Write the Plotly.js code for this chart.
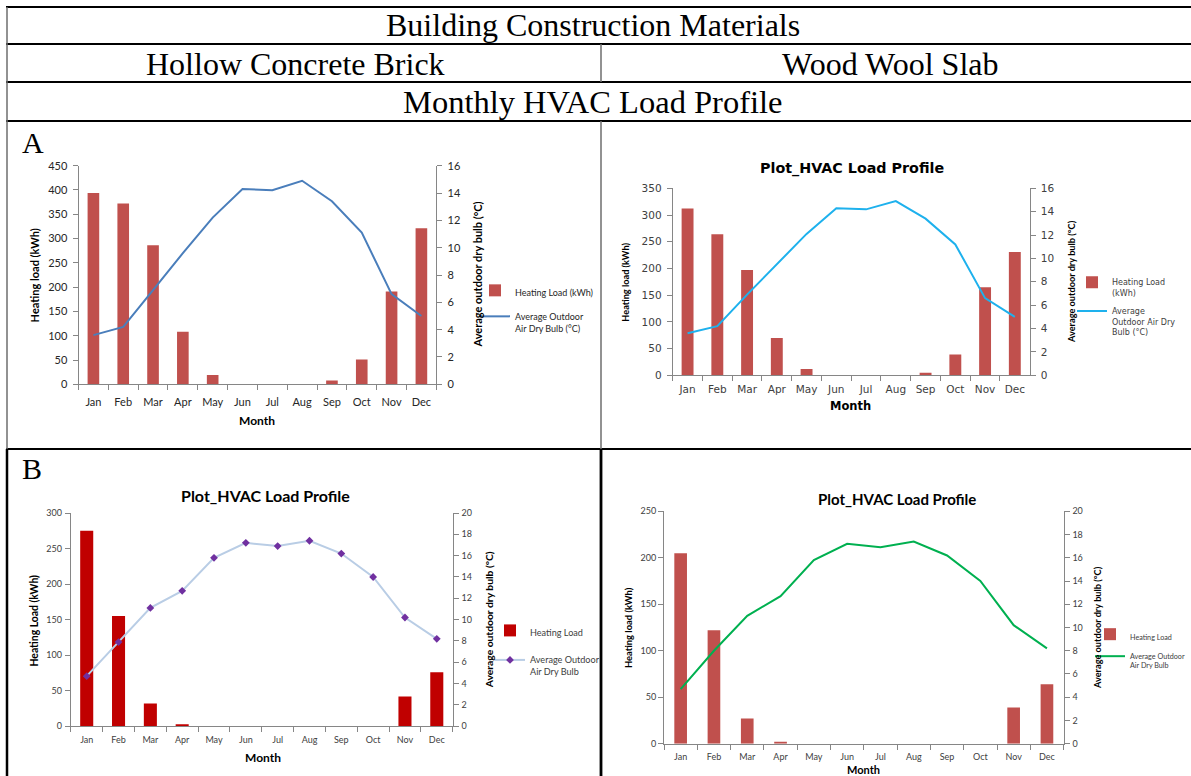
<!DOCTYPE html>
<html>
<head>
<meta charset="utf-8">
<script src="https://cdn.plot.ly/plotly-3.0.1.min.js"></script>
<style>
html,body{margin:0;padding:0;background:#fff;overflow:hidden;}
#chart{width:1191px;height:776px;}
</style>
</head>
<body>
<div id="chart"></div>
<script>
// ---------- data ----------
const months = ['Jan','Feb','Mar','Apr','May','Jun','Jul','Aug','Sep','Oct','Nov','Dec'];

// Case A - Hollow Concrete Brick
const heatA_HCB = [394, 372, 286, 108, 19, 0, 0, 0, 8, 51, 191, 321];
const tempA_HCB = [3.6, 4.2, 6.9, 9.6, 12.2, 14.3, 14.2, 14.9, 13.4, 11.1, 6.6, 5.0];
// Case A - Wood Wool Slab
const heatA_WWS = [312, 264, 197, 70, 12, 0, 0, 0, 5, 39, 165, 231];
const tempA_WWS = [3.6, 4.2, 6.9, 9.5, 12.1, 14.3, 14.2, 14.9, 13.4, 11.2, 6.6, 5.0];
// Case B - Hollow Concrete Brick
const heatB_HCB = [275, 155, 32, 3, 0, 0, 0, 0, 0, 0, 42, 76];
const tempB_HCB = [4.7, 7.9, 11.1, 12.7, 15.8, 17.2, 16.9, 17.4, 16.2, 14.0, 10.2, 8.2];
// Case B - Wood Wool Slab
const heatB_WWS = [205, 122, 27, 2, 0, 0, 0, 0, 0, 0, 39, 64];
const tempB_WWS = [4.7, 8.0, 11.0, 12.7, 15.8, 17.2, 16.9, 17.4, 16.2, 14.0, 10.2, 8.2];

// text
const headerTitle = 'Building Construction Materials';
const materials = ['Hollow Concrete Brick', 'Wood Wool Slab'];
const profileTitle = 'Monthly HVAC Load Profile';
const caseLabels = ['A', 'B'];
const chartTitle = 'Plot_HVAC Load Profile';

// ---------- helpers ----------
const W = 1191, H = 776;
const fx = v => v / W;
const fy = v => 1 - v / H;
const AXC = '#868686';

function xAxis(l, r, anchor, font, standoff) {
  return {
    domain: [fx(l), fx(r)], anchor: anchor, type: 'category', range: [-0.5, 11.5],
    showline: true, linecolor: AXC, linewidth: 1,
    ticks: 'outside', tickson: 'boundaries', ticklen: 5, tickcolor: AXC,
    tickangle: 0, tickfont: font, ticklabelstandoff: standoff,
    showgrid: false, zeroline: false, fixedrange: true
  };
}
function yAxis(top, bottom, anchor, range, dtick, font, standoff) {
  return {
    domain: [fy(bottom), fy(top)], anchor: anchor, range: range, dtick: dtick, tick0: 0,
    showline: true, linecolor: AXC, linewidth: 1,
    ticks: 'outside', ticklen: 5, tickcolor: AXC,
    tickfont: font, ticklabelstandoff: standoff,
    showgrid: false, zeroline: false, fixedrange: true
  };
}
function yAxisR(over, anchor, range, dtick, font, standoff) {
  return {
    overlaying: over, side: 'right', anchor: anchor, range: range, dtick: dtick, tick0: 0,
    showline: true, linecolor: AXC, linewidth: 1,
    ticks: 'outside', ticklen: 5, tickcolor: AXC,
    tickfont: font, ticklabelstandoff: standoff,
    showgrid: false, zeroline: false, fixedrange: true
  };
}

const f1 = {family: 'Lato', size: 11, color: '#262626'};
const f2 = {family: 'DejaVu Sans', size: 10.5, color: '#404040'};
const f3 = {family: 'Lato', size: 9, color: '#404040'};
const f4 = {family: 'Lato', size: 9, color: '#404040'};

// ---------- traces ----------
const traces = [
  {type: 'bar', x: months, y: heatA_HCB, xaxis: 'x', yaxis: 'y', width: 0.39,
   name: 'Heating Load (kWh)', marker: {color: '#C0504D'}, legend: 'legend', legendgroup: 'a1'},
  {type: 'scatter', mode: 'lines', x: months, y: tempA_HCB, xaxis: 'x', yaxis: 'y2',
   name: 'Average Outdoor<br>Air Dry Bulb (°C)', line: {color: '#4A7EBB', width: 2}, legend: 'legend', legendgroup: 'a2'},

  {type: 'bar', x: months, y: heatA_WWS, xaxis: 'x2', yaxis: 'y3', width: 0.4,
   name: 'Heating Load<br>(kWh)', marker: {color: '#C0504D'}, legend: 'legend2', legendgroup: 'b1'},
  {type: 'scatter', mode: 'lines', x: months, y: tempA_WWS, xaxis: 'x2', yaxis: 'y4',
   name: 'Average<br>Outdoor Air Dry<br>Bulb (°C)', line: {color: '#1EB1ED', width: 2}, legend: 'legend2', legendgroup: 'b2'},

  {type: 'bar', x: months, y: heatB_HCB, xaxis: 'x3', yaxis: 'y5', width: 0.41,
   name: 'Heating Load', marker: {color: '#C00000'}, legend: 'legend3', legendgroup: 'c1'},
  {type: 'scatter', mode: 'lines+markers', x: months, y: tempB_HCB, xaxis: 'x3', yaxis: 'y6',
   name: 'Average Outdoor<br>Air Dry Bulb', line: {color: '#B9CDE5', width: 2},
   marker: {symbol: 'diamond', size: 6, color: '#7030A0'}, legend: 'legend3', legendgroup: 'c2'},

  {type: 'bar', x: months, y: heatB_WWS, xaxis: 'x4', yaxis: 'y7', width: 0.38,
   name: 'Heating Load', marker: {color: '#C0504D'}, legend: 'legend4', legendgroup: 'd1'},
  {type: 'scatter', mode: 'lines', x: months, y: tempB_WWS, xaxis: 'x4', yaxis: 'y8',
   name: 'Average Outdoor<br>Air Dry Bulb', line: {color: '#00B050', width: 2}, legend: 'legend4', legendgroup: 'd2'}
];

// ---------- table lines ----------
const shapes = [];
function hline(y, x0, x1, color, w) {
  shapes.push({type: 'line', xref: 'paper', yref: 'paper', x0: fx(x0), x1: fx(x1), y0: fy(y), y1: fy(y),
               line: {color: color, width: w}, layer: 'above'});
}
function vline(x, y0, y1, color, w) {
  shapes.push({type: 'line', xref: 'paper', yref: 'paper', x0: fx(x), x1: fx(x), y0: fy(y0), y1: fy(y1),
               line: {color: color, width: w}, layer: 'above'});
}
[7, 44, 82, 121, 449].forEach(y => hline(y, 6, 1191, '#000', 2.2));
vline(7, 7, 449, '#6e6e6e', 1.5);
vline(7, 449, 776, '#000', 2.5);
vline(601, 44, 82, '#6e6e6e', 1.5);
vline(601, 121, 449, '#6e6e6e', 1.5);
vline(601, 449, 776, '#000', 2.8);

// ---------- annotations ----------
const ann = [];
function txt(x, y, text, font, opts) {
  ann.push(Object.assign({x: fx(x), y: fy(y), xref: 'paper', yref: 'paper', text: text, font: font,
    showarrow: false, xanchor: 'center', yanchor: 'middle'}, opts || {}));
}
const serif = s => ({family: 'Liberation Serif', size: s, color: '#000'});
txt(592.5, 25.5, headerTitle, serif(32));
txt(295, 63.5, materials[0], serif(32));
txt(890, 63.5, materials[1], serif(32));
txt(592.5, 102, profileTitle, serif(32.5));
txt(33, 142, caseLabels[0], serif(30));
txt(32, 469, caseLabels[1], serif(30));

const bold = (fam, s) => ({family: fam, size: s, color: '#000', weight: 'bold'});
// chart titles
txt(852, 168.3, chartTitle, bold('DejaVu Sans', 14.3));
txt(265.4, 496, chartTitle, bold('Lato', 16));
txt(897, 499, chartTitle, bold('Lato', 15));
// axis titles panel 1
txt(34.4, 275, 'Heating load (kWh)', bold('Lato', 11), {textangle: -90});
txt(476.5, 275, 'Average outdoor dry bulb (°C)', bold('Lato', 11), {textangle: -90});
txt(257, 421, 'Month', bold('Lato', 12));
// panel 2
txt(626, 282.7, 'Heating load (kWh)', bold('Lato', 9.2), {textangle: -90});
txt(1071, 282, 'Average outdoor dry bulb (°C)', bold('Lato', 9.2), {textangle: -90});
txt(850.7, 405.7, 'Month', bold('DejaVu Sans', 11.5));
// panel 3
txt(33, 620.5, 'Heating Load (kWh)', bold('Lato', 10.4), {textangle: -90});
txt(488.7, 619.5, 'Average outdoor dry bulb (°C)', bold('Lato', 10.3), {textangle: -90});
txt(262.5, 757.3, 'Month', bold('Lato', 12));
// panel 4
txt(628, 628, 'Heating load (kWh)', bold('Lato', 9.4), {textangle: -90});
txt(1097, 628, 'Average outdoor dry bulb (°C)', bold('Lato', 9.2), {textangle: -90});
txt(863.9, 769.5, 'Month', bold('Lato', 11));

// ---------- legends ----------
function legend(x, y, font, gap) {
  return {x: fx(x), y: fy(y), xref: 'paper', yref: 'paper', xanchor: 'left', yanchor: 'top',
          font: font, bgcolor: 'rgba(0,0,0,0)', valign: 'top', traceorder: 'grouped',
          tracegroupgap: gap};
}

const layout = {
  width: W, height: H,
  margin: {l: 0, r: 0, t: 0, b: 0, pad: 0, autoexpand: false},
  paper_bgcolor: '#fff', plot_bgcolor: 'rgba(0,0,0,0)',
  showlegend: true,
  xaxis: xAxis(78.5, 436.3, 'y', f1, 7),
  yaxis: yAxis(165.7, 384.3, 'x', [0, 450], 50, f1, 3),
  yaxis2: yAxisR('y', 'x', [0, 16], 2, f1, 3),

  xaxis2: xAxis(672.7, 1029.7, 'y3', f2, 4),
  yaxis3: yAxis(188.3, 375.3, 'x2', [0, 350], 50, f2, 3),
  yaxis4: yAxisR('y3', 'x2', [0, 16], 2, f2, 3),

  xaxis3: xAxis(70.8, 452.7, 'y5', f3, 5),
  yaxis5: yAxis(513, 726.3, 'x3', [0, 300], 50, f3, 1),
  yaxis6: yAxisR('y5', 'x3', [0, 20], 2, f3, 1),

  xaxis4: xAxis(664, 1063.6, 'y7', f4, 4),
  yaxis7: yAxis(511.3, 743.7, 'x4', [0, 250], 50, f4, 0),
  yaxis8: yAxisR('y7', 'x4', [0, 20], 2, f4, 1),

  legend: legend(475, 278, {family: 'Lato', size: 9, color: '#262626'}, 7),
  legend2: legend(1072, 270.5, {family: 'DejaVu Sans', size: 8, color: '#404040'}, 5),
  legend3: legend(490, 618, {family: 'Lato', size: 9.1, color: '#404040'}, 10.5),
  legend4: legend(1090, 623, {family: 'Lato', size: 7.2, color: '#404040'}, 3),

  shapes: shapes,
  annotations: ann
};

Plotly.newPlot('chart', traces, layout, {staticPlot: true, displayModeBar: false});
</script>
</body>
</html>
